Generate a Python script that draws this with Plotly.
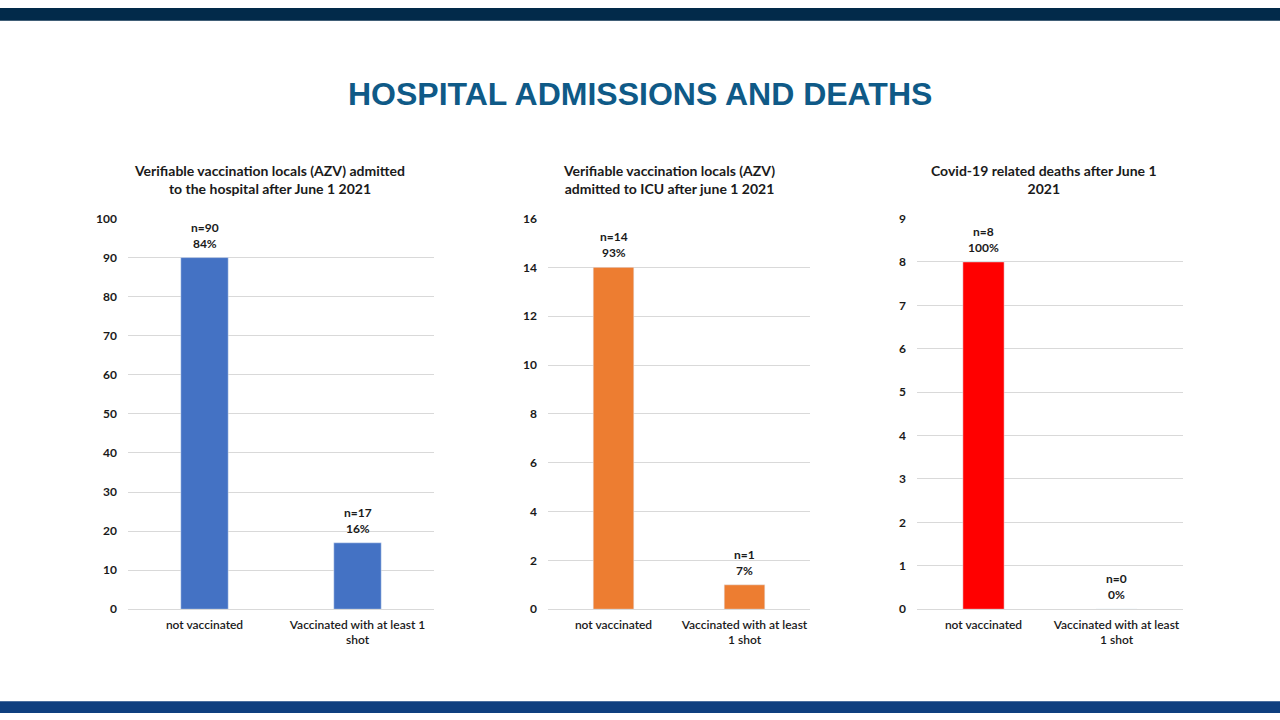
import plotly.graph_objects as go

categories_1 = ["not vaccinated", "Vaccinated with at least 1<br>shot"]
categories_2 = ["not vaccinated", "Vaccinated with at least<br>1 shot"]
categories_3 = ["not vaccinated", "Vaccinated with at least<br>1 shot"]

hospital_values = [90, 17]
hospital_pct = ["84%", "16%"]
icu_values = [14, 1]
icu_pct = ["93%", "7%"]
death_values = [8, 0]
death_pct = ["100%", "0%"]

titles = [
    "Verifiable vaccination locals (AZV) admitted<br>to the hospital after June 1 2021",
    "Verifiable vaccination locals (AZV)<br>admitted to ICU after june 1 2021",
    "Covid-19 related deaths after June 1<br>2021",
]
y_ranges = [(0, 100, 10), (0, 16, 2), (0, 9, 1)]
colors = ["#4472C4", "#ED7D31", "#FF0000"]

W, H = 1280, 720
x_domains_px = [(128, 434), (548, 810), (917, 1183)]
title_centers_px = [269, 669, 1044]
y_dom = [(720 - 614) / H, (720 - 215) / H]

FONT = "Lato"
TXT = "#1a1a1a"

fig = go.Figure()
panels = [
    (categories_1, hospital_values, hospital_pct),
    (categories_2, icu_values, icu_pct),
    (categories_3, death_values, death_pct),
]
for i, (cats, vals, pcts) in enumerate(panels):
    n = "" if i == 0 else str(i + 1)
    fig.add_trace(go.Bar(
        x=cats, y=vals, marker_color=colors[i], width=0.31,
        xaxis="x" + n, yaxis="y" + n, showlegend=False, hoverinfo="skip",
    ))
    for c, v, p in zip(cats, vals, pcts):
        fig.add_annotation(
            x=c, y=v, xref="x" + n, yref="y" + n,
            text=f"<b>n={v}<br>{p}</b>", showarrow=False,
            yanchor="bottom", yshift=5,
            font=dict(family=FONT, size=12, color=TXT),
        )
    lo, hi, step = y_ranges[i]
    xd = [x_domains_px[i][0] / W, x_domains_px[i][1] / W]
    fig.update_layout(**{
        "xaxis" + n: dict(
            domain=xd, anchor="y" + n, showgrid=False, showline=True,
            linecolor="#D9D9D9", linewidth=1, ticks="",
            tickfont=dict(family=FONT, size=12, color=TXT, weight=600),
            ticklabelstandoff=4, fixedrange=True,
        ),
        "yaxis" + n: dict(
            domain=y_dom, anchor="x" + n, range=[lo, hi], dtick=step,
            showgrid=True, gridcolor="#D9D9D9", gridwidth=1, zeroline=False,
            showline=False, ticks="",
            tickfont=dict(family=FONT, size=12, color=TXT, weight="bold"),
            ticklabelstandoff=10, fixedrange=True,
        ),
    })
    fig.add_annotation(
        x=title_centers_px[i] / W, y=(720 - 175) / H, xref="paper", yref="paper",
        text=f"<b>{titles[i]}</b>", showarrow=False,
        xanchor="center", yanchor="middle",
        font=dict(family=FONT, size=14, color=TXT),
    )

# Page title
fig.add_annotation(
    x=640 / W, y=(720 - 88) / H, xref="paper", yref="paper",
    text="<b>HOSPITAL ADMISSIONS AND DEATHS</b>", showarrow=False,
    xanchor="center", yanchor="middle",
    font=dict(family="Liberation Sans", size=32, color="#0F5A87"),
)

# Top and bottom bands
fig.add_shape(type="rect", xref="paper", yref="paper", x0=0, x1=1,
              y0=1 - 13 / H, y1=1, fillcolor="#022A4A", line_width=0, layer="above")
fig.add_shape(type="rect", xref="paper", yref="paper", x0=0, x1=1,
              y0=0, y1=12 / H, fillcolor="#0F3F7F", line_width=0, layer="above")

fig.update_layout(
    width=W, height=H, margin=dict(l=0, r=0, t=0, b=0),
    paper_bgcolor="white", plot_bgcolor="white", bargap=0.69,
    font=dict(family=FONT, color=TXT),
)

post = (
    "document.documentElement.style.margin='0';"
    "document.documentElement.style.padding='0';"
    "document.documentElement.style.overflow='hidden';"
    "document.body.style.margin='0';"
    "document.body.style.padding='0';"
    "document.body.style.overflow='hidden';"
    "var gd=document.getElementById('{plot_id}');"
    "gd.style.position='fixed';gd.style.top='0px';gd.style.left='0px';"
)
fig.write_html("out.html", config={"displayModeBar": False}, post_script=post)
